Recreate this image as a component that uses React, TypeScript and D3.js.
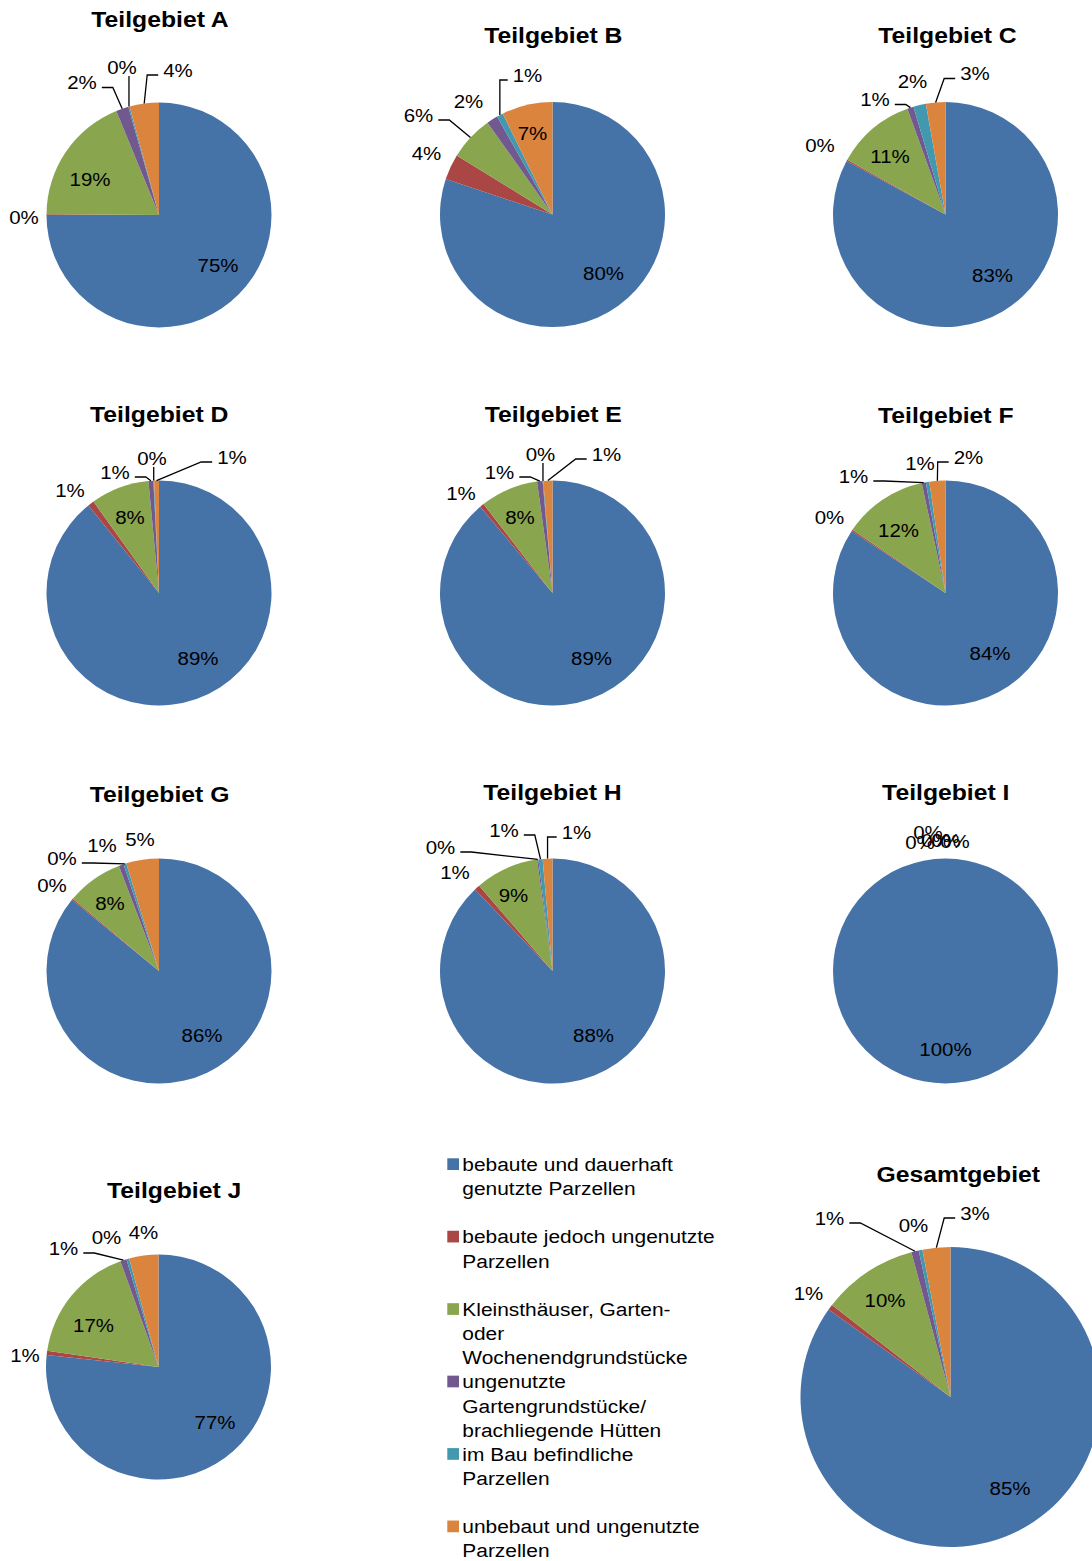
import React from 'react';
import * as d3 from 'd3';

// Land-use categories (legend entries, wrapped as displayed)
const categories: string[][] = [
  ['bebaute und dauerhaft', 'genutzte Parzellen'],
  ['bebaute jedoch ungenutzte', 'Parzellen'],
  ['Kleinsthäuser, Garten-', 'oder', 'Wochenendgrundstücke'],
  ['ungenutzte', 'Gartengrundstücke/', 'brachliegende Hütten'],
  ['im Bau befindliche', 'Parzellen'],
  ['unbebaut und ungenutzte', 'Parzellen'],
];

const sliceColors = ['#4572A7', '#AA4643', '#89A54E', '#71588F', '#4198AF', '#DB843D'];

const chartTitles = [
  'Teilgebiet A', 'Teilgebiet B', 'Teilgebiet C',
  'Teilgebiet D', 'Teilgebiet E', 'Teilgebiet F',
  'Teilgebiet G', 'Teilgebiet H', 'Teilgebiet I',
  'Teilgebiet J', 'Gesamtgebiet',
];

// Shares in percent, in category order
const teilgebietA = [75.0, 0.1, 18.7, 1.8, 0.2, 4.2];
const teilgebietB = [80.1, 3.7, 6.4, 1.6, 0.9, 7.3];
const teilgebietC = [82.9, 0.2, 11.4, 0.9, 1.8, 2.8];
const teilgebietD = [89.2, 0.9, 8.4, 0.7, 0.1, 0.7];
const teilgebietE = [88.9, 0.6, 8.3, 0.8, 0.1, 1.3];
const teilgebietF = [84.3, 0.2, 12.1, 0.6, 0.5, 2.3];
const teilgebietG = [85.9, 0.2, 8.1, 0.7, 0.4, 4.7];
const teilgebietH = [87.9, 0.8, 9.1, 0.2, 0.6, 1.4];
const teilgebietI = [100, 0, 0, 0, 0, 0];
const teilgebietJ = [76.7, 0.6, 17.2, 0.9, 0.4, 4.2];
const gesamtgebiet = [84.9, 0.6, 10.3, 0.8, 0.4, 3.0];

const seriesValues = [
  teilgebietA, teilgebietB, teilgebietC, teilgebietD, teilgebietE, teilgebietF,
  teilgebietG, teilgebietH, teilgebietI, teilgebietJ, gesamtgebiet,
];

// Pie placement: centre, radius, title anchor (x, baseline)
type PieBox = { cx: number; cy: number; r: number; tx: number; ty: number };
const pieBoxes: PieBox[] = [
  { cx: 159, cy: 215, r: 112.5, tx: 160, ty: 26.7 },
  { cx: 552.5, cy: 214.5, r: 112.5, tx: 553.3, ty: 43.3 },
  { cx: 945.5, cy: 214.5, r: 112.5, tx: 947.5, ty: 43.3 },
  { cx: 159, cy: 593, r: 112.5, tx: 159.2, ty: 421.7 },
  { cx: 552.5, cy: 593, r: 112.5, tx: 553.3, ty: 421.7 },
  { cx: 945.5, cy: 593, r: 112.5, tx: 945.8, ty: 422.7 },
  { cx: 159, cy: 971, r: 112.5, tx: 159.5, ty: 801.7 },
  { cx: 552.5, cy: 971, r: 112.5, tx: 552.5, ty: 800 },
  { cx: 945.5, cy: 971, r: 112.5, tx: 945.8, ty: 800 },
  { cx: 158.5, cy: 1367, r: 112.5, tx: 174.2, ty: 1198.3 },
  { cx: 950.5, cy: 1397, r: 150, tx: 958.3, ty: 1181.7 },
];

// Data-label placement relative to pie centre; leader: '' none, 'h' elbow, 'v' vertical
type LabelSpot = [number, number, '' | 'h' | 'v'];
const labelSpots: LabelSpot[][] = [
  [[59, 50, ''], [-135, 2, ''], [-69, -36, ''], [-77, -132.5, 'h'], [-37, -148, 'v'], [19, -145, 'h']],
  [[51, 59, ''], [-126, -61, ''], [-134, -99.5, 'h'], [-84, -113, ''], [-25, -139.5, 'h'], [-20, -81, '']],
  [[47, 60.5, ''], [-125.5, -69.5, ''], [-55.5, -58, ''], [-70.5, -115, 'h'], [-33, -133, ''], [29.5, -141, 'h']],
  [[39, 65, ''], [-89, -103, ''], [-29, -76, ''], [-44, -121, 'h'], [-7, -135, 'v'], [73, -136, 'h']],
  [[39, 65, ''], [-91.5, -100, ''], [-32.5, -76, ''], [-53, -121, 'h'], [-12, -139, 'v'], [54, -139, 'h']],
  [[44.5, 60, ''], [-116, -76, ''], [-47, -63, ''], [-92, -117, 'h'], [-25.5, -130, ''], [23, -136, 'h']],
  [[43, 64, ''], [-107, -86, ''], [-49, -68, ''], [-57, -126, ''], [-97, -113, 'h'], [-19, -132, '']],
  [[41, 64, ''], [-97.5, -99, ''], [-39, -76, ''], [-112, -124, 'h'], [-48.5, -141, 'h'], [24, -139, 'h']],
  [[0, 78, ''], [-25.5, -129, ''], [-17.5, -139, ''], [-9.5, -131, ''], [0.5, -131, ''], [9.5, -130, '']],
  [[56.5, 55, ''], [-133.5, -12, ''], [-65, -42, ''], [-95, -119, 'h'], [-52, -130, ''], [-15, -135, '']],
  [[59.5, 91, ''], [-142, -104, ''], [-65.5, -97, ''], [-121, -179, 'h'], [-37, -172, ''], [24.5, -184, 'h']],
];

const FONT = '"Liberation Sans", Arial, sans-serif';
const STRETCH = 1.09;
const LABEL_SIZE = 18.8;
const TITLE_SIZE = 22.7;
const LEGEND_SIZE = 19.2;

const pctText = (v: number, total: number) => `${Math.round((v / total) * 100)}%`;
const textWidth = (s: string, size: number) => {
  let w = 0;
  for (const ch of s) w += ch === '%' ? 0.889 : 0.556;
  return w * size * STRETCH;
};

function Txt(props: {
  x: number; y: number; size: number; bold?: boolean; anchor?: string; dy?: string; children: React.ReactNode;
}) {
  const { x, y, size, bold, anchor = 'middle', dy, children } = props;
  return (
    <text
      transform={`translate(${x},${y}) scale(${STRETCH},1)`}
      textAnchor={anchor}
      dy={dy}
      fontSize={size}
      fontWeight={bold ? 'bold' : 'normal'}
      fontFamily={FONT}
      fill="#000"
    >
      {children}
    </text>
  );
}

function PieChart({ index }: { index: number }) {
  const values = seriesValues[index];
  const box = pieBoxes[index];
  const spots = labelSpots[index];
  const total = d3.sum(values);
  const pie = d3.pie<number>().sort(null).value((d) => d);
  const arcs = pie(values);
  const arcGen = d3.arc<d3.PieArcDatum<number>>().innerRadius(0).outerRadius(box.r);

  return (
    <g>
      <Txt x={box.tx} y={box.ty} size={TITLE_SIZE} bold>
        {chartTitles[index]}
      </Txt>
      <g transform={`translate(${box.cx},${box.cy})`}>
        {arcs.map((a, i) =>
          a.endAngle - a.startAngle > 0 ? (
            <path key={i} d={arcGen(a) || ''} fill={sliceColors[i]} />
          ) : null
        )}
      </g>
      {arcs.map((a, i) => {
        const [dx, dy, mode] = spots[i];
        const tx = box.cx + dx;
        const ty = box.cy + dy;
        const label = pctText(a.data, total);
        const mid = (a.startAngle + a.endAngle) / 2;
        const px = box.cx + box.r * Math.sin(mid);
        const py = box.cy - box.r * Math.cos(mid);
        let leader: string | null = null;
        if (mode === 'h') {
          const half = textWidth(label, LABEL_SIZE) / 2;
          const right = px > tx;
          const ax = right ? tx + half + 5 : tx - half - 5;
          const ay = ty + 5;
          const ex = right ? Math.min(ax + 11, px) : Math.max(ax - 11, px);
          leader = `M${ax},${ay}L${ex},${ay}L${px},${py}`;
        } else if (mode === 'v') {
          leader = `M${px},${ty + 9}L${px},${py}`;
        }
        return (
          <g key={`l${i}`}>
            {leader && <path d={leader} fill="none" stroke="#000" strokeWidth={1.3} />}
            <Txt x={tx} y={ty} size={LABEL_SIZE} dy="0.35em">
              {label}
            </Txt>
          </g>
        );
      })}
    </g>
  );
}

function Legend() {
  const swatchX = 447.3;
  const swatch = 11.7;
  const textX = 462.3;
  const firstBaseline = 1171;
  const pitch = 72.45;
  const lineH = 24.2;
  return (
    <g>
      {categories.map((lines, k) => {
        const base = firstBaseline + k * pitch;
        return (
          <g key={k}>
            <rect x={swatchX} y={base - 12.7} width={swatch} height={swatch} fill={sliceColors[k]} />
            {lines.map((ln, j) => (
              <Txt key={j} x={textX} y={base + j * lineH} size={LEGEND_SIZE} anchor="start">
                {ln}
              </Txt>
            ))}
          </g>
        );
      })}
    </g>
  );
}

export default function App() {
  return (
    <svg
      width={1092}
      height={1561}
      style={{ position: 'absolute', left: 0, top: 0, display: 'block', background: '#fff' }}
    >
      <rect width={1092} height={1561} fill="#fff" />
      {seriesValues.map((_, i) => (
        <PieChart key={i} index={i} />
      ))}
      <Legend />
    </svg>
  );
}
